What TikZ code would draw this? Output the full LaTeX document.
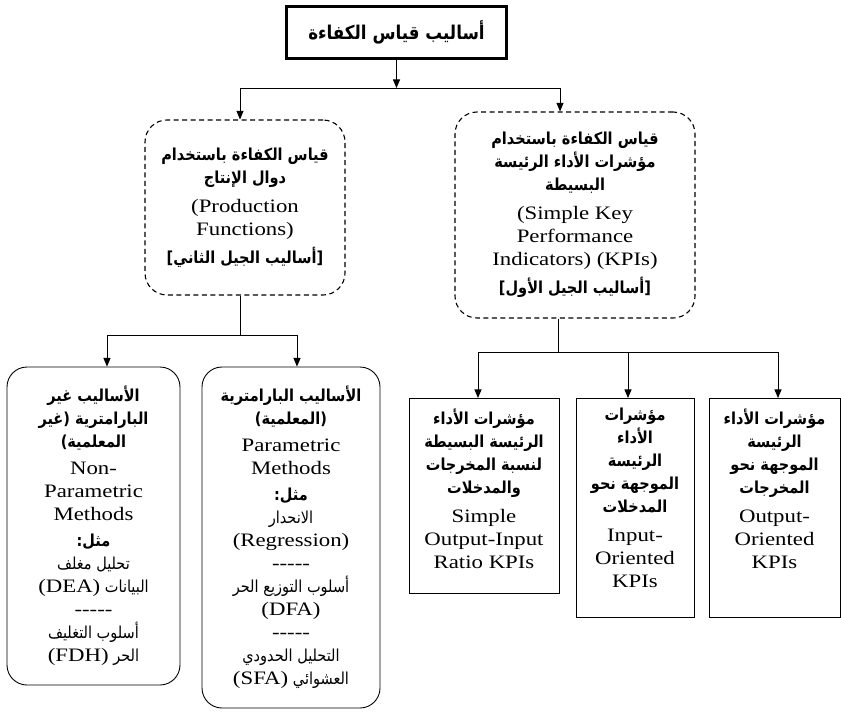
\documentclass[tikz,border=0pt]{standalone}
\usepackage{fontspec}
\setmainfont{Liberation Serif}[FakeStretch=1.2]
\newfontfamily\arabicfont[Script=Arabic,FakeStretch=0.88]{DejaVu Sans}
\TeXXeTstate=1
\usetikzlibrary{arrows}

\newcommand{\arb}[1]{{\arabicfont\bfseries\fontsize{16.5}{23}\selectfont\beginR #1\endR}}
\newcommand{\arn}[1]{{\arabicfont\fontsize{16.5}{23}\selectfont\beginR #1\endR}}
\newcommand{\eng}[1]{\beginL{\rmfamily\mdseries\fontsize{19}{23}\selectfont #1}\endL}
\newcommand{\sepline}{-{}-{}-{}-{}-}
\newcommand{\topbox}[3]{\parbox[c][#1][t]{#2}{\centering\vspace*{10pt}#3}}

\begin{document}
\begin{tikzpicture}[x=1pt, y=-1pt,
    font=\fontsize{19}{23}\selectfont,
    headbox/.style={draw, line width=2.5pt, minimum width=220pt, minimum height=52pt, inner sep=0pt},
    genbox/.style={draw, line width=1.1pt, dash pattern=on 5pt off 3.5pt, rounded corners=22pt, align=center, inner sep=0pt},
    methbox/.style={draw, line width=0.9pt, rounded corners=20pt, align=center, inner sep=0pt},
    kpibox/.style={draw, line width=0.9pt, inner sep=0pt, anchor=north},
    link/.style={line width=1pt},
    arr/.style={line width=1pt, -triangle 45}]
  \useasboundingbox (0,0) rectangle (841,712);

  \node[headbox] (top) at (396.5,32.5) {{\arabicfont\bfseries\fontsize{19}{20}\selectfont\beginR أساليب قياس الكفاءة\endR}};

  \node[genbox, minimum width=200pt, minimum height=175pt] (prodfn) at (245,207.5)
    {\arb{قياس الكفاءة باستخدام}\\ \arb{دوال الإنتاج}\\[6pt]
     (Production\\ Functions)\\[5pt] \arb{[أساليب الجيل الثاني]}};

  \node[genbox, minimum width=240pt, minimum height=206pt] (kpiset) at (575,215)
    {\arb{قياس الكفاءة باستخدام}\\ \arb{مؤشرات الأداء الرئيسة}\\ \arb{البسيطة}\\[6pt]
     (Simple Key\\ Performance\\ Indicators) (KPIs)\\[5pt] \arb{[أساليب الجيل الأول]}};

  \node[methbox, minimum width=173pt, minimum height=318pt] (nonpar) at (93.5,526)
    {\arb{الأساليب غير}\\ \arb{البارامترية (غير}\\ \arb{المعلمية)}\\[4pt]
     Non-\\ Parametric\\ Methods\\[3pt] \arb{مثل:}\\
     \arn{تحليل مغلف}\\ \arn{البيانات \eng{(DEA)}}\\ \sepline\\
     \arn{أسلوب التغليف}\\ \arn{الحر \eng{(FDH)}}};

  \node[methbox, minimum width=178pt, minimum height=341pt] (par) at (291,537.5)
    {\arb{الأساليب البارامترية}\\ \arb{(المعلمية)}\\[4pt]
     Parametric\\ Methods\\[3pt] \arb{مثل:}\\
     \arn{الانحدار}\\ (Regression)\\ \sepline\\
     \arn{أسلوب التوزيع الحر}\\ (DFA)\\ \sepline\\
     \arn{التحليل الحدودي}\\ \arn{العشوائي \eng{(SFA)}}};

  \node[kpibox] (ratio) at (484,398)
    {\topbox{195pt}{150pt}{\arb{مؤشرات الأداء}\\ \arb{الرئيسة البسيطة}\\ \arb{لنسبة المخرجات}\\ \arb{والمدخلات}\\[6pt]
     Simple\\ Output-Input\\ Ratio KPIs}};

  \node[kpibox] (inorient) at (635,398)
    {\topbox{219pt}{118pt}{\arb{مؤشرات}\\ \arb{الأداء}\\ \arb{الرئيسة}\\ \arb{الموجهة نحو}\\ \arb{المدخلات}\\[6pt]
     Input-\\ Oriented\\ KPIs}};

  \node[kpibox] (outorient) at (774.5,398)
    {\topbox{219pt}{131pt}{\arb{مؤشرات الأداء}\\ \arb{الرئيسة}\\ \arb{الموجهة نحو}\\ \arb{المخرجات}\\[6pt]
     Output-\\ Oriented\\ KPIs}};

  \coordinate (jt) at (396.5,88);
  \coordinate (jtl) at (240,88);
  \coordinate (jtr) at (560,88);
  \draw[arr] (top) -- (jt);
  \draw[link] (jtl) -- (jtr);
  \draw[arr] (jtl) -- (jtl |- prodfn.north);
  \draw[arr] (jtr) -- (jtr |- kpiset.north);

  \coordinate (jl) at (240,335);
  \coordinate (jll) at (107,335);
  \coordinate (jlr) at (297,335);
  \draw[link] (jl |- prodfn.south) -- (jl);
  \draw[link] (jll) -- (jlr);
  \draw[arr] (jll) -- (jll |- nonpar.north);
  \draw[arr] (jlr) -- (jlr |- par.north);

  \coordinate (jr) at (558,352);
  \coordinate (jrl) at (478,352);
  \coordinate (jrm) at (628,352);
  \coordinate (jrr) at (778,352);
  \draw[link] (jr |- kpiset.south) -- (jr);
  \draw[link] (jrl) -- (jrr);
  \draw[arr] (jrl) -- (jrl |- ratio.north);
  \draw[arr] (jrm) -- (jrm |- inorient.north);
  \draw[arr] (jrr) -- (jrr |- outorient.north);
\end{tikzpicture}
\end{document}
